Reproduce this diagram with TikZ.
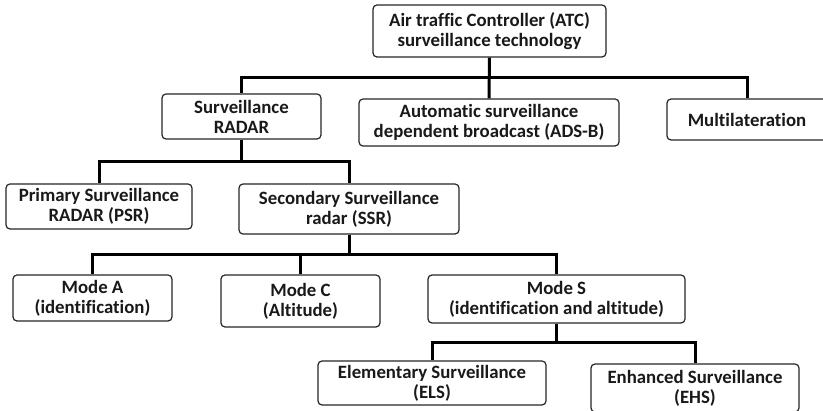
\documentclass[tikz,border=0pt]{standalone}
\usepackage{fontspec}
\setmainfont[Ligatures={NoCommon}]{Carlito}
\begin{document}
\begin{tikzpicture}[x=1pt,y=-1pt,
  box/.style={draw=black!85, line width=1.2pt, rounded corners=4pt, inner sep=0pt,
    align=center, text=black!90, font=\bfseries\fontsize{18.8}{20}\selectfont},
  link/.style={draw=black, line width=3pt}]
\clip (0,0) rectangle (823,411);
\fill[white] (0,0) rectangle (823,411);

% top level
\node[box, minimum width=233pt, minimum height=52pt] (atc) at (489.5,31) {Air traffic Controller (ATC)\\surveillance technology};

% second level
\node[box, minimum width=159pt, minimum height=45pt] (radar) at (241.5,116.5) {Surveillance\\RADAR};
\node[box, minimum width=260pt, minimum height=47pt] (adsb) at (489,122.5) {Automatic surveillance\\dependent broadcast (ADS-B)};
\node[box, minimum width=160pt, minimum height=41pt] (multi) at (747,119.5) {Multilateration};

% radar types
\node[box, minimum width=186pt, minimum height=45pt] (psr) at (99,206.5) {Primary Surveillance\\RADAR (PSR)};
\node[box, minimum width=220pt, minimum height=50pt] (ssr) at (349,209) {Secondary Surveillance\\radar (SSR)};

% SSR modes
\node[box, minimum width=159pt, minimum height=46pt] (modea) at (92.5,298) {Mode A\\(identification)};
\node[box, minimum width=159pt, minimum height=52pt] (modec) at (300.5,301) {Mode C\\(Altitude)};
\node[box, minimum width=257pt, minimum height=48pt] (modes) at (556.5,299) {Mode S\\(identification and altitude)};

% Mode S variants
\node[box, minimum width=228pt, minimum height=44pt] (els) at (432,383) {Elementary Surveillance\\(ELS)};
\node[box, minimum width=208pt, minimum height=48pt] (ehs) at (695,388) {Enhanced Surveillance\\(EHS)};

% connectors
\draw[link] (atc.south) -- ++(0,20) -| (radar.north);
\draw[link] (atc.south) -- (adsb.north);
\draw[link] (atc.south) -- ++(0,20) -| (multi.north);

\draw[link] (radar.south) -- ++(0,22) -| (psr.north);
\draw[link] (radar.south) -- ++(0,22) -| (ssr.north);

\draw[link] (ssr.south) -- ++(0,20) -| (modea.north);
\draw[link] (ssr.south) -- ++(0,20) -| (modec.north);
\draw[link] (ssr.south) -- ++(0,20) -| (modes.north);

\draw[link] (modes.south) -- ++(0,19) -| (els.north);
\draw[link] (modes.south) -- ++(0,19) -| (ehs.north);
\end{tikzpicture}
\end{document}
